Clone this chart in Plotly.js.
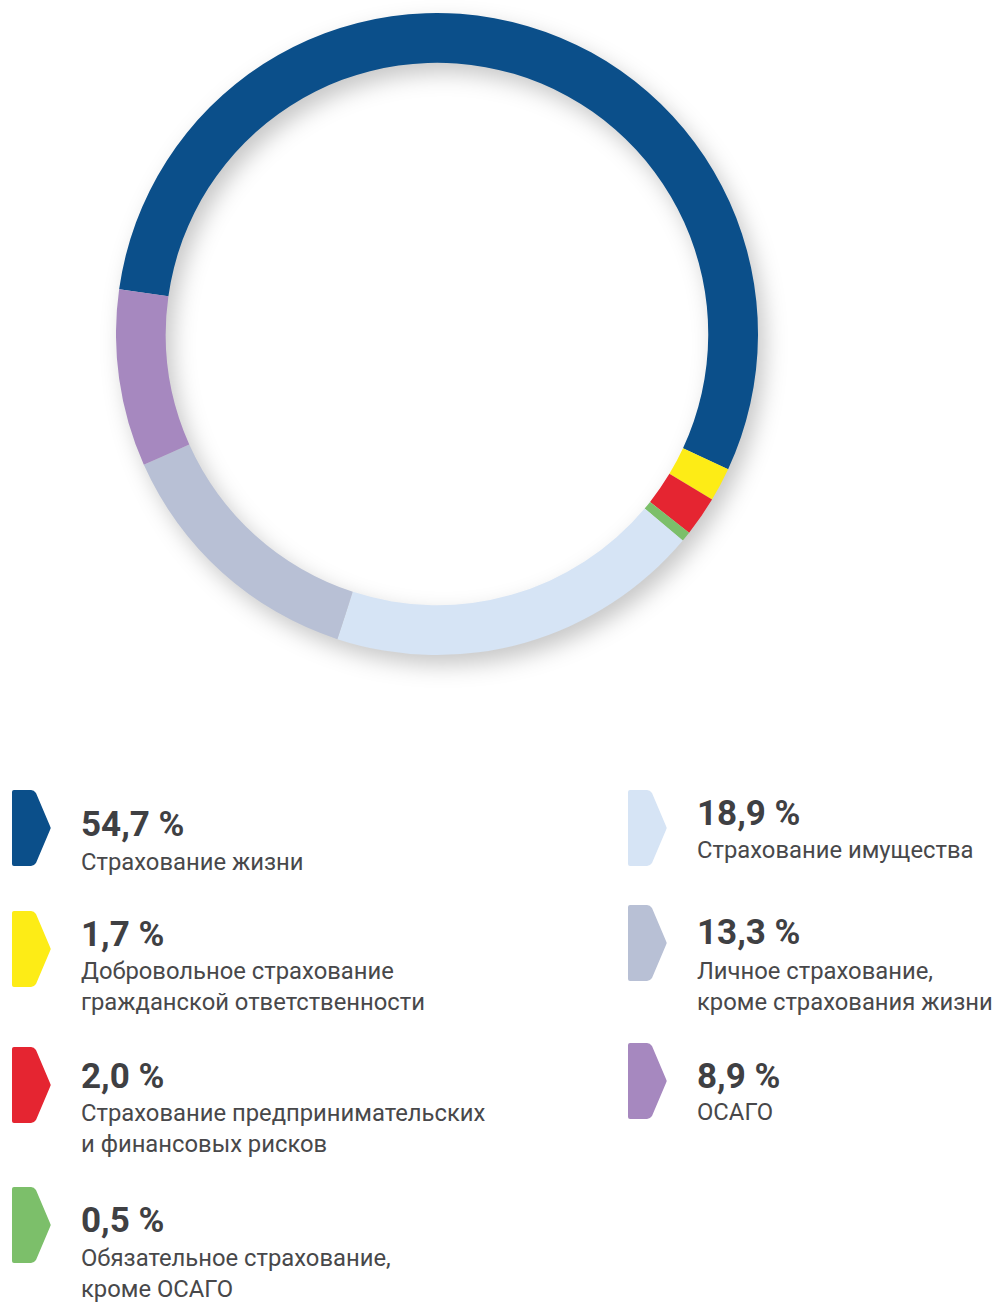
<!DOCTYPE html>
<html>
<head>
<meta charset="utf-8">
<script src="https://cdn.plot.ly/plotly-3.0.1.min.js"></script>
<style>
  html, body { margin: 0; padding: 0; background: #ffffff; }
  #chart { width: 995px; height: 1302px; }
  #chart .pielayer .trace { filter: drop-shadow(7px 10px 11px rgba(0,0,0,0.22)); }
</style>
</head>
<body>
<div id="chart"></div>
<script>
// ---- data ----
const categories = [
  "Страхование жизни",
  "Добровольное страхование<br>гражданской ответственности",
  "Страхование предпринимательских<br>и финансовых рисков",
  "Обязательное страхование,<br>кроме ОСАГО",
  "Страхование имущества",
  "Личное страхование,<br>кроме страхования жизни",
  "ОСАГО"
];
const shares = [54.7, 1.7, 2.0, 0.5, 18.9, 13.3, 8.9];
const colors = ["#0b4f8a", "#fdec16", "#e52531", "#7cbf6a", "#d6e4f5", "#b8c0d5", "#a688bf"];

// ---- legend layout (pixel positions) ----
const W = 995, H = 1302;
const legColX = [12, 12, 12, 12, 628, 628, 628];
const legTop = [790, 911, 1047, 1187, 790, 905, 1043];
const pctCenter = [824, 934, 1076, 1220, 813, 933, 1076];
const lblCenter = [862, 986, 1128.5, 1273, 850, 986, 1112];

const px = x => x / W;
const py = y => 1 - y / H;

function chevron(x0, y0) {
  const w = 39, h = 76, ym = y0 + h / 2, y1 = y0 + h;
  const pts = [
    ["M", x0 + 2, y0], ["L", x0 + 19, y0], ["Q", x0 + 22, y0, x0 + 24, y0 + 3],
    ["L", x0 + w - 1, ym - 2], ["Q", x0 + w + 0.5, ym, x0 + w - 1, ym + 2],
    ["L", x0 + 24, y1 - 3], ["Q", x0 + 22, y1, x0 + 19, y1],
    ["L", x0 + 2, y1], ["Q", x0, y1, x0, y1 - 2], ["L", x0, y0 + 2], ["Q", x0, y0, x0 + 2, y0]
  ];
  return pts.map(p => {
    const c = p[0]; const nums = p.slice(1);
    const out = [];
    for (let i = 0; i < nums.length; i += 2) out.push(px(nums[i]).toFixed(5) + "," + py(nums[i + 1]).toFixed(5));
    return c + out.join(" ");
  }).join(" ") + " Z";
}

const shapes = [];
const annotations = [];
shares.forEach((v, i) => {
  shapes.push({
    type: "path", xref: "paper", yref: "paper",
    path: chevron(legColX[i], legTop[i]),
    fillcolor: colors[i], line: { width: 0 }
  });
  const tx = legColX[i] + 67;
  annotations.push({
    xref: "paper", yref: "paper", x: px(tx), y: py(pctCenter[i]),
    xanchor: "left", yanchor: "middle", showarrow: false, align: "left",
    text: "<b>" + v.toFixed(1).replace(".", ",") + " %</b>",
    font: { family: "Roboto, sans-serif", size: 35, color: "#3f4043" }
  });
  annotations.push({
    xref: "paper", yref: "paper", x: px(tx), y: py(lblCenter[i]),
    xanchor: "left", yanchor: "middle", showarrow: false, align: "left",
    text: categories[i],
    font: { family: "Roboto, sans-serif", size: 23.8, color: "#48484a" }
  });
});

const cx = 437, cy = 334, R = 321;
const trace = {
  type: "pie",
  labels: categories,
  values: shares,
  marker: { colors: colors, line: { width: 0 } },
  hole: 0.845,
  sort: false,
  direction: "clockwise",
  rotation: 278,
  textinfo: "none",
  hoverinfo: "none",
  showlegend: false,
  domain: { x: [px(cx - R), px(cx + R)], y: [py(cy + R), py(cy - R)] }
};

const layout = {
  width: W, height: H,
  margin: { l: 0, r: 0, t: 0, b: 0 },
  paper_bgcolor: "#ffffff",
  plot_bgcolor: "#ffffff",
  showlegend: false,
  shapes: shapes,
  annotations: annotations
};

Plotly.newPlot("chart", [trace], layout, { displayModeBar: false, staticPlot: true });
</script>
</body>
</html>
